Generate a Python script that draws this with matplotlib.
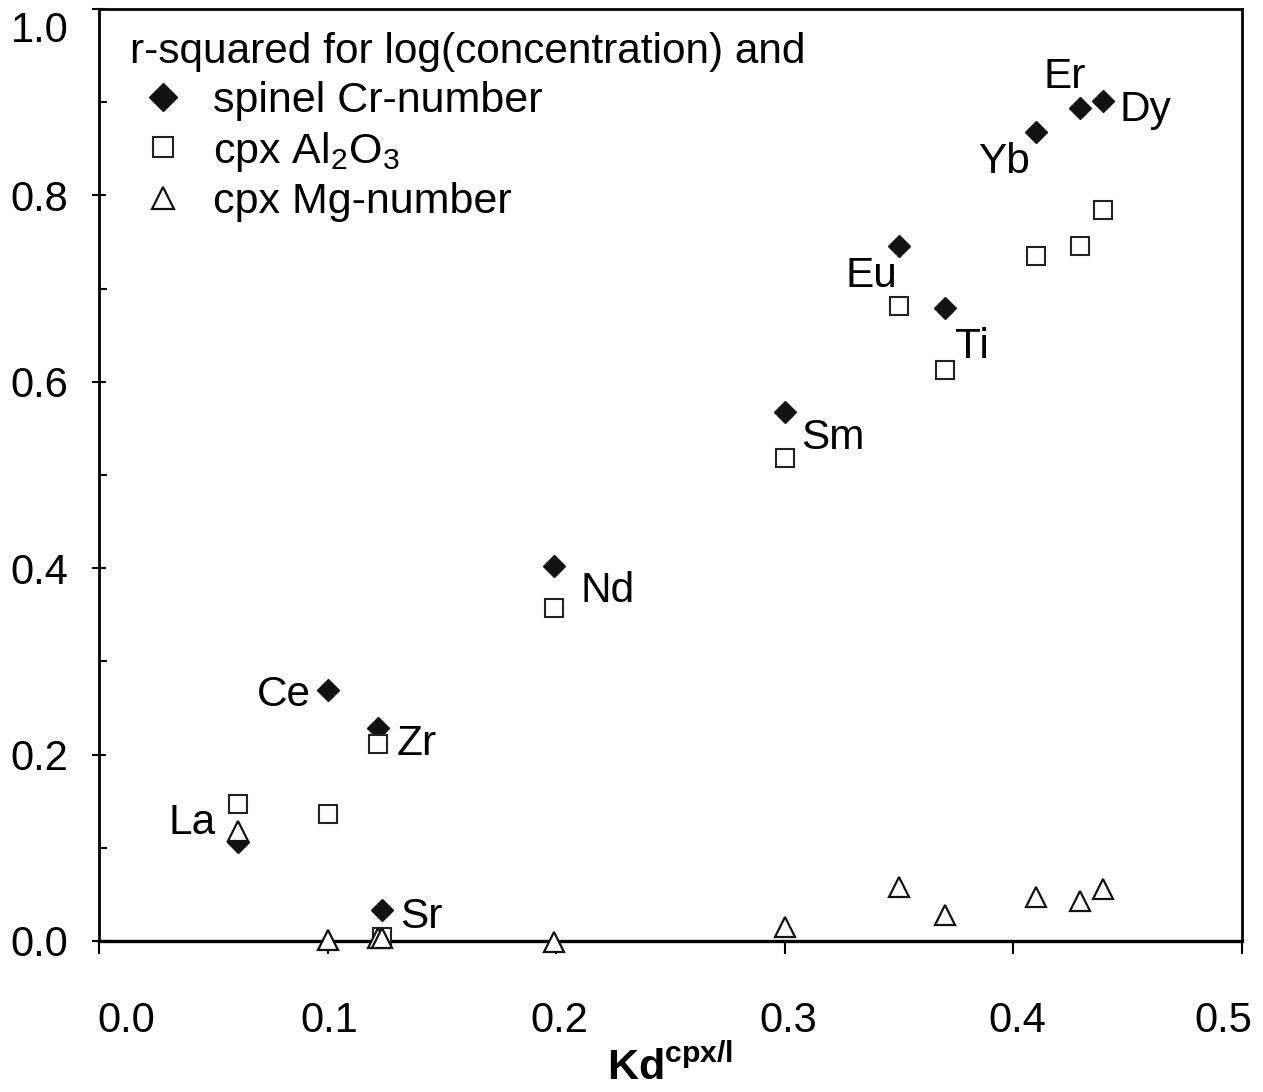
"""r-squared of log(concentration) vs Kd(cpx/l) for spinel Cr#, cpx Al2O3 and cpx Mg#."""
import numpy as np
import matplotlib
matplotlib.use("Agg")
import matplotlib.pyplot as plt
from matplotlib.lines import Line2D
from matplotlib.ticker import MultipleLocator
from matplotlib.transforms import ScaledTranslation

plt.rcParams["font.family"] = ["Liberation Sans", "DejaVu Sans"]
plt.rcParams["mathtext.fontset"] = "custom"
plt.rcParams["mathtext.rm"] = "Liberation Sans"
plt.rcParams["mathtext.bf"] = "Liberation Sans:bold"

# element, Kd cpx/liquid, and r-squared for each mineral index
elements = ["La", "Ce", "Zr", "Sr", "Nd", "Sm", "Eu", "Ti", "Yb", "Er", "Dy"]
kd       = [0.061, 0.100, 0.122, 0.124, 0.199, 0.300, 0.350, 0.370, 0.410, 0.429, 0.439]
cr_num   = [0.106, 0.269, 0.229, 0.033, 0.402, 0.568, 0.746, 0.679, 0.868, 0.894, 0.901]
al2o3    = [0.147, 0.136, 0.211, 0.004, 0.357, 0.518, 0.681, 0.613, 0.735, 0.746, 0.784]
mg_num   = [0.118, 0.001, 0.003, 0.003, -0.001, 0.015, 0.058, 0.028, 0.047, 0.043, 0.056]

x_ticks = np.round(np.arange(0, 0.51, 0.1), 1)
y_ticks = np.round(np.arange(0, 1.01, 0.2), 1)

# label placement relative to the diamond (pixels, ha)
LABEL_OFFSETS = {
    "La": (-23, 24, "right"), "Ce": (-17, 0, "right"), "Zr": (19, -12, "left"),
    "Sr": (18, -2, "left"),   "Nd": (27, -20, "left"),  "Sm": (16, -22, "left"),
    "Eu": (-2, -26, "right"), "Ti": (10, -34, "left"),  "Yb": (-6, -25, "right"),
    "Er": (-15, 35, "center"), "Dy": (17, -4, "left"),
}

W, H = 1263, 1092
fig = plt.figure(figsize=(W / 100, H / 100), dpi=100)
ax = fig.add_axes([99 / W, 1 - 941 / H, (1242 - 99) / W, (941 - 9) / H])

ax.plot(kd, cr_num, ls="none", marker="D", ms=11.5, color="#111111", zorder=3,
        clip_on=False)
ax.plot(kd, al2o3, ls="none", marker="s", ms=12.5, mfc="white", mec="#222222",
        mew=1.5, zorder=4, clip_on=False)
ax.plot(kd, mg_num, ls="none", marker="^", ms=14.5, mfc="white", mec="#111111",
        mew=1.6, zorder=5, clip_on=False)

for name, x, y in zip(elements, kd, cr_num):
    dx, dy, ha = LABEL_OFFSETS[name]
    ax.annotate(name, (x, y), xytext=(dx, dy), textcoords="offset pixels",
                ha=ha, va="center_baseline", fontsize=30.5, zorder=6)

ax.set_xlim(0, 0.5)
ax.set_ylim(0, 1.0)
ax.set_xticks(x_ticks, [f"{v:.1f}" for v in x_ticks])
ax.set_yticks(y_ticks, [f"{v:.1f}" for v in y_ticks])
ax.yaxis.set_minor_locator(MultipleLocator(0.1))

for side in ["left", "top", "right"]:
    ax.spines[side].set_linewidth(2.0)
ax.spines["bottom"].set_linewidth(2.4)
ax.tick_params(axis="x", direction="out", length=9, width=1.5, pad=34,
               labelsize=30)
ax.tick_params(axis="y", which="major", direction="inout", length=10, width=1.5,
               pad=17, labelsize=30)
ax.tick_params(axis="y", which="minor", direction="in", length=6, width=1.5)

# end tick labels are nudged inward, as in the original
x_shifts = [27, 2, 3, 3, 4, -19]
for lab, s in zip(ax.get_xticklabels(), x_shifts):
    lab.set_transform(lab.get_transform()
                      + ScaledTranslation(s / 100, 0, fig.dpi_scale_trans))
top_lab = ax.get_yticklabels()[-1]
top_lab.set_transform(top_lab.get_transform()
                      + ScaledTranslation(0, -18 / 100, fig.dpi_scale_trans))

fig.text((99 + 1242) / 2 / W, 1 - 1068 / H, r"$\mathbf{Kd^{cpx/l}}$",
         ha="center", va="center", fontsize=31)

handles = [
    Line2D([], [], ls="none", marker="D", ms=14.5, color="#111111"),
    Line2D([], [], ls="none", marker="s", ms=14, mfc="white", mec="#222222", mew=1.5),
    Line2D([], [], ls="none", marker="^", ms=16, mfc="white", mec="#111111", mew=1.6),
]
labels = ["spinel Cr-number", r"cpx Al$_2$O$_3$", "cpx Mg-number"]
leg = ax.legend(handles, labels, title="r-squared for log(concentration) and",
                loc="upper left", bbox_to_anchor=(0.027, 0.975), frameon=False,
                fontsize=31, title_fontsize=30.5, alignment="left",
                borderpad=0, borderaxespad=0, handlelength=1.55,
                handletextpad=0.38, labelspacing=0.2, numpoints=1)

fig.savefig("out.png", dpi=100)
